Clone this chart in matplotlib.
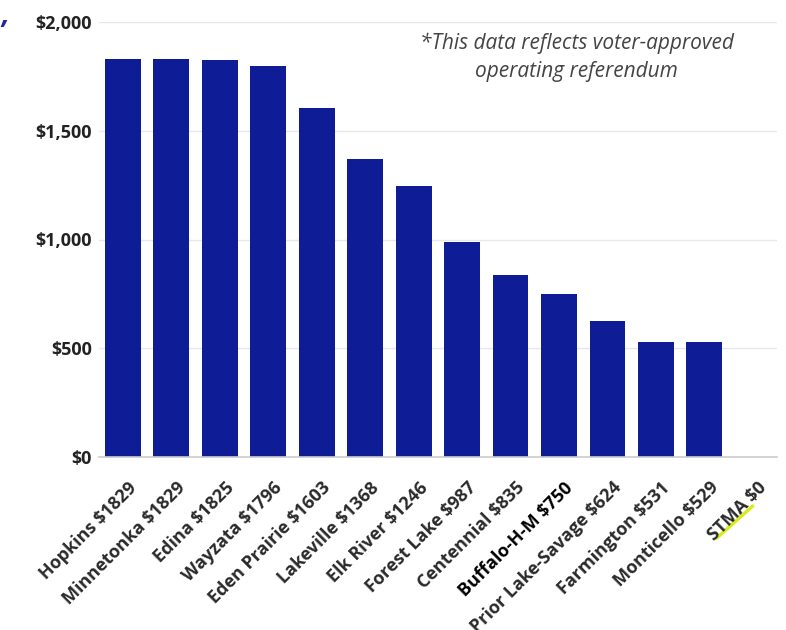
import matplotlib
matplotlib.use("Agg")
import matplotlib.pyplot as plt
import matplotlib.transforms as mtransforms
from matplotlib.ticker import FuncFormatter

districts = ["Hopkins", "Minnetonka", "Edina", "Wayzata", "Eden Prairie", "Lakeville",
             "Elk River", "Forest Lake", "Centennial", "Buffalo-H-M", "Prior Lake-Savage",
             "Farmington", "Monticello", "STMA"]
amounts = [1829, 1829, 1825, 1796, 1603, 1368, 1246, 987, 835, 750, 624, 531, 529, 0]
y_ticks = [0, 500, 1000, 1500, 2000]
note = "*This data reflects voter-approved\noperating referendum"

FONT = "Open Sans"
BAR = "#0e1c96"

fig = plt.figure(figsize=(7.86, 6.3), dpi=100)
ax = fig.add_axes([98.75 / 786, 1 - 457 / 630, (777 - 98.75) / 786, (457 - 22) / 630])

x = list(range(len(districts)))
ax.bar(x, amounts, width=0.74, color=BAR, zorder=2)
ax.set_xlim(-0.5, len(districts) - 0.5)
ax.set_ylim(0, 2000)

ax.set_yticks(y_ticks)
ax.yaxis.set_major_formatter(FuncFormatter(lambda v, p: f"${int(v):,}"))
for lab in ax.get_yticklabels():
    lab.set_fontfamily(FONT)
    lab.set_fontweight("bold")
    lab.set_fontsize(13)
    lab.set_color("#222222")
ax.tick_params(axis="y", length=0, pad=5)
ax.grid(axis="y", color="#e8e8e8", linewidth=1, zorder=0)

ax.set_xticks(x)
ax.set_xticklabels([f"{d} ${a}" for d, a in zip(districts, amounts)])
ax.tick_params(axis="x", length=0, pad=12)
shift = mtransforms.ScaledTranslation(0.05, -0.05, fig.dpi_scale_trans)
for i, lab in enumerate(ax.get_xticklabels()):
    lab.set_fontfamily(FONT)
    lab.set_fontweight("bold")
    lab.set_fontsize(13)
    lab.set_rotation(45)
    lab.set_rotation_mode("anchor")
    lab.set_ha("right")
    lab.set_va("top")
    lab.set_color("#000000" if districts[i] == "Buffalo-H-M" else "#2a2a2a")
    lab.set_zorder(5)
    lab.set_transform(lab.get_transform() + shift)

for s in ["top", "right", "left"]:
    ax.spines[s].set_visible(False)
ax.spines["bottom"].set_color("#cccccc")
ax.spines["bottom"].set_linewidth(1.2)

# yellow highlight under the STMA label
trans = fig.dpi_scale_trans + mtransforms.ScaledTranslation(len(districts) - 1, 0, ax.transData)
ax.plot([-0.36, 0.0], [-0.81, -0.49], transform=trans, color="#d8ec1c",
        linewidth=2.4, solid_capstyle="round", clip_on=False, zorder=1)

ax.text(0.705, 0.918, note, transform=ax.transAxes, ha="center", va="center",
        fontfamily=FONT, fontstyle="italic", fontsize=15, color="#444444",
        linespacing=1.45, zorder=3)

fig.text(0.002, 0.998, ",", ha="left", va="top", fontfamily=FONT, fontweight="bold",
         fontstyle="italic", fontsize=20, color="#1a2a9c")

fig.savefig("out.png", dpi=100)
